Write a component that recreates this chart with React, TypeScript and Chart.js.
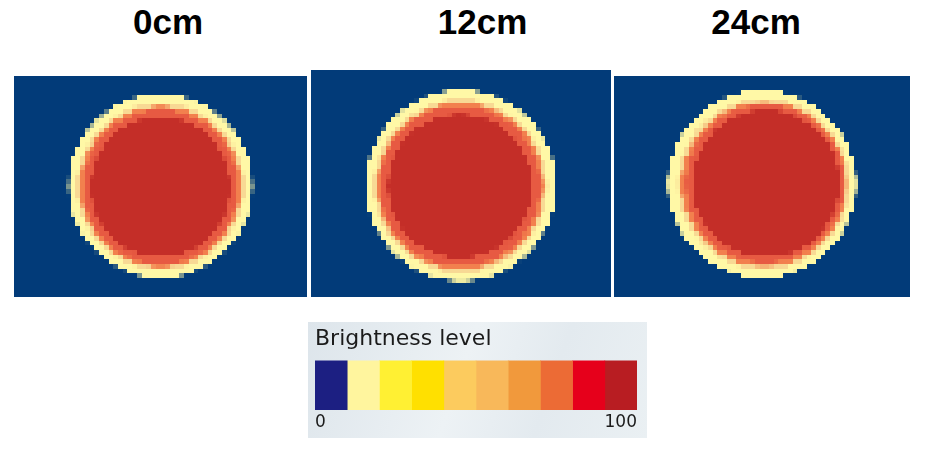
import React, { useEffect, useRef } from 'react';
import { Chart, registerables } from 'chart.js';

Chart.register(...registerables);

// ---------- data ----------
const panelTitles = ['0cm', '12cm', '24cm'];
const ringLabels = ['Glow', 'Edge', 'Halo', 'Rim', 'Core'];
const ringColors = ['#fff8a6', '#f8d994', '#f2804e', '#e75a42', '#c42e28'];
// ring centre (x, y from the panel's top-left) and radius, outer ring first
const rings0cm = [
  { x: 146.5, y: 110, r: 92 },
  { x: 146.5, y: 110.5, r: 84 },
  { x: 146.5, y: 110.5, r: 80.5 },
  { x: 146.5, y: 111, r: 77 },
  { x: 146.5, y: 111, r: 70 },
];
const rings12cm = [
  { x: 150, y: 115.5, r: 95.5 },
  { x: 149.5, y: 116, r: 87 },
  { x: 149.5, y: 116, r: 83.5 },
  { x: 149, y: 116, r: 80 },
  { x: 149, y: 116, r: 72 },
];
const rings24cm = [
  { x: 148, y: 108, r: 94 },
  { x: 149.5, y: 108, r: 86 },
  { x: 150, y: 108, r: 82.5 },
  { x: 151, y: 107.5, r: 79 },
  { x: 152, y: 107.5, r: 73.5 },
];
const levelColors = [
  '#1c1f82', '#fff59e', '#fff033', '#ffe000', '#fccb5e',
  '#f8b85a', '#f1993c', '#ec6b35', '#e6001b', '#b81d22',
];
const levelSpans = [10, 10, 10, 10, 10, 10, 10, 10, 10, 10];
const levelTicks = [0, 100];

// ---------- layout ----------
const panelBoxes = [
  { left: 14, top: 76, w: 293, h: 221, titleX: 168 },
  { left: 311, top: 70, w: 300, h: 227, titleX: 482.5 },
  { left: 614, top: 76, w: 296, h: 221, titleX: 756 },
];
const panelRings = [rings0cm, rings12cm, rings24cm];
const legendBox = { left: 308, top: 322, w: 339, h: 116 };

const bgPlugin = {
  id: 'panelBg',
  beforeDatasetsDraw(chart: any) {
    const { ctx, chartArea: a } = chart;
    ctx.save();
    ctx.fillStyle = '#023b79';
    ctx.fillRect(a.left, a.top, a.right - a.left, a.bottom - a.top);
    ctx.restore();
  },
};

const pixelPlugin = {
  id: 'pixelate',
  afterDatasetsDraw(chart: any) {
    const { ctx, chartArea: a, canvas } = chart;
    const W = a.right - a.left;
    const H = a.bottom - a.top;
    const cell = 4.7;
    const cw = Math.max(1, Math.round(W / cell));
    const ch = Math.max(1, Math.round(H / cell));
    const off = document.createElement('canvas');
    off.width = cw;
    off.height = ch;
    const octx = off.getContext('2d')!;
    octx.imageSmoothingEnabled = false;
    octx.drawImage(canvas, a.left, a.top, W, H, 0, 0, cw, ch);
    ctx.save();
    ctx.imageSmoothingEnabled = false;
    ctx.drawImage(off, 0, 0, cw, ch, a.left, a.top, W, H);
    ctx.restore();
  },
};

const legendBgPlugin = {
  id: 'legendBg',
  beforeDraw(chart: any) {
    const { ctx, width, height } = chart;
    ctx.save();
    const g = ctx.createLinearGradient(0, 0, width, height);
    g.addColorStop(0, '#dde5eb');
    g.addColorStop(0.45, '#edf2f5');
    g.addColorStop(0.7, '#e3eaef');
    g.addColorStop(1, '#eaf0f3');
    ctx.fillStyle = g;
    ctx.fillRect(0, 0, width, height);
    ctx.restore();
  },
};

function Panel({ idx }: { idx: number }) {
  const ref = useRef<HTMLCanvasElement>(null);
  const box = panelBoxes[idx];
  const rings = panelRings[idx];
  useEffect(() => {
    const chart = new Chart(ref.current!, {
      type: 'bubble',
      data: {
        datasets: rings.map((p, i) => ({
          label: ringLabels[i],
          data: [p],
          backgroundColor: ringColors[i],
          borderWidth: 0,
          order: rings.length - i,
        })),
      },
      options: {
        responsive: false,
        animation: false,
        events: [],
        layout: { padding: 0, autoPadding: false },
        plugins: { legend: { display: false }, tooltip: { enabled: false } },
        scales: {
          x: { type: 'linear', min: 0, max: box.w, display: false },
          y: { type: 'linear', min: 0, max: box.h, reverse: true, display: false },
        },
      } as any,
      plugins: [bgPlugin, pixelPlugin],
    });
    return () => chart.destroy();
  }, []);
  return (
    <canvas
      ref={ref}
      width={box.w}
      height={box.h}
      style={{ position: 'absolute', left: box.left, top: box.top, width: box.w, height: box.h }}
    />
  );
}

function Legend() {
  const ref = useRef<HTMLCanvasElement>(null);
  useEffect(() => {
    const chart = new Chart(ref.current!, {
      type: 'bar',
      data: {
        labels: ['Brightness'],
        datasets: levelColors.map((c, i) => ({
          label: 'level ' + (i + 1),
          data: [levelSpans[i]],
          backgroundColor: c,
          borderWidth: 0,
          barPercentage: 1,
          categoryPercentage: 1,
        })),
      },
      options: {
        indexAxis: 'y',
        responsive: false,
        animation: false,
        events: [],
        layout: { padding: { left: 7, right: 10, top: 0, bottom: 0 } },
        plugins: {
          legend: { display: false },
          tooltip: { enabled: false },
          title: {
            display: true,
            text: 'Brightness level',
            align: 'start',
            color: '#1b1b1b',
            font: { family: 'DejaVu Sans', size: 22, weight: 'normal' },
            padding: { top: 4, bottom: 8 },
          },
        },
        scales: {
          x: {
            stacked: true,
            min: 0,
            max: 100,
            grid: { display: false, drawTicks: false },
            border: { display: false },
            afterBuildTicks: (s: any) => {
              s.ticks = levelTicks.map((v) => ({ value: v }));
            },
            afterFit: (s: any) => {
              s.height = 28;
            },
            ticks: {
              align: 'inner',
              padding: 2,
              color: '#1b1b1b',
              maxRotation: 0,
              autoSkip: false,
              font: { family: 'DejaVu Sans', size: 17 },
            },
          },
          y: { stacked: true, display: false },
        },
      } as any,
      plugins: [legendBgPlugin],
    });
    return () => chart.destroy();
  }, []);
  return (
    <canvas
      ref={ref}
      width={legendBox.w}
      height={legendBox.h}
      style={{
        position: 'absolute',
        left: legendBox.left,
        top: legendBox.top,
        width: legendBox.w,
        height: legendBox.h,
      }}
    />
  );
}

export default function App() {
  return (
    <div
      style={{
        position: 'absolute',
        left: 0,
        top: 0,
        width: 926,
        height: 449,
        background: '#ffffff',
        overflow: 'hidden',
      }}
    >
      {panelTitles.map((t, i) => (
        <div
          key={t}
          style={{
            position: 'absolute',
            left: panelBoxes[i].titleX - 100,
            top: 3.5,
            width: 200,
            textAlign: 'center',
            font: 'bold 35px "Liberation Sans", Arial, sans-serif',
            lineHeight: '35px',
            color: '#000',
          }}
        >
          {t}
        </div>
      ))}
      {panelBoxes.map((_, i) => (
        <Panel key={i} idx={i} />
      ))}
      <Legend />
    </div>
  );
}
